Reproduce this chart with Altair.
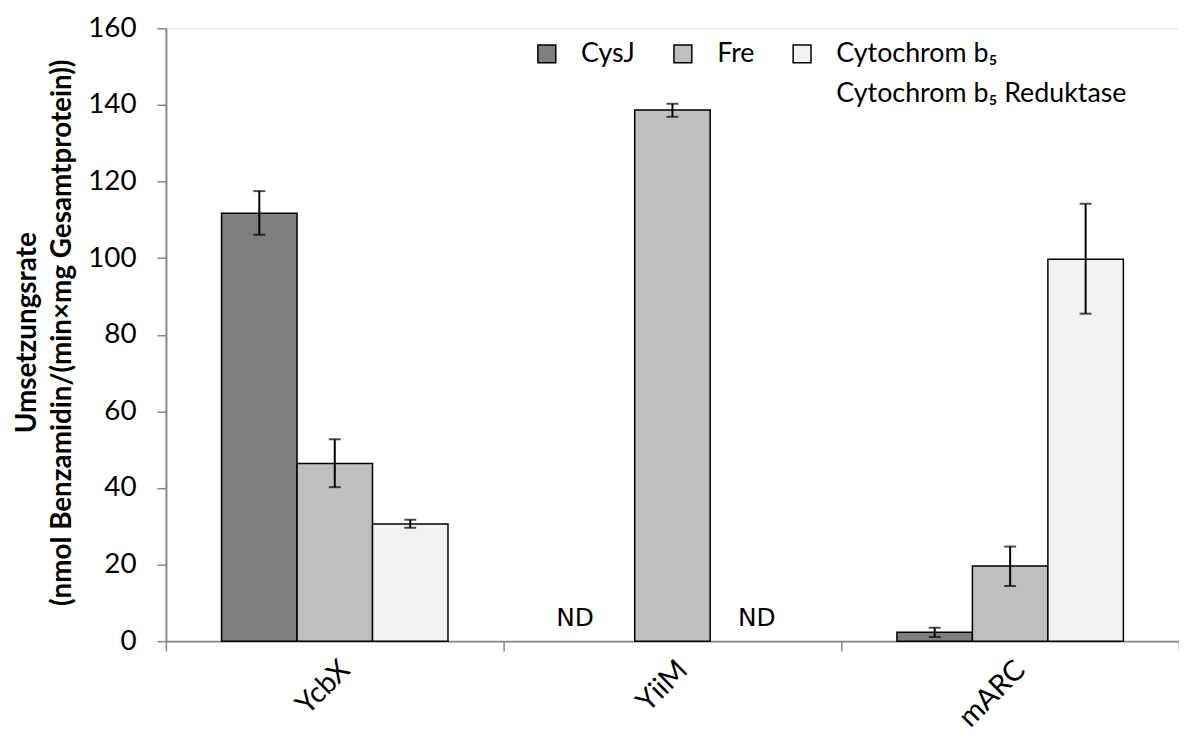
import altair as alt
import pandas as pd

categories = ["YcbX", "YiiM", "mARC"]
series = ["CysJ", "Fre", "Cyt"]
series_labels = {"CysJ": "CysJ", "Fre": "Fre", "Cyt": "Cytochrom b₅"}
second_line = ["Cytochrom b₅ Reduktase"]
series_colors = ["#7f7f7f", "#bfbfbf", "#f2f2f2"]

cysj_vals = [111.7, None, 2.3]
cysj_lo = [106.1, None, 1.1]
cysj_hi = [117.5, None, 3.5]

fre_vals = [46.4, 138.7, 19.6]
fre_lo = [40.2, 136.9, 14.4]
fre_hi = [52.7, 140.3, 24.7]

cyt_vals = [30.6, None, 99.7]
cyt_lo = [29.6, None, 85.5]
cyt_hi = [31.7, None, 114.2]

y_ticks = [0, 20, 40, 60, 80, 100, 120, 140, 160]

rows = []
for s, vals, lo, hi in [("CysJ", cysj_vals, cysj_lo, cysj_hi),
                        ("Fre", fre_vals, fre_lo, fre_hi),
                        ("Cyt", cyt_vals, cyt_lo, cyt_hi)]:
    for c, v, l, h in zip(categories, vals, lo, hi):
        rows.append({"cat": c, "series": s, "value": v, "lo": l, "hi": h,
                     "nd": "ND" if v is None else None})
df = pd.DataFrame(rows)
df2 = pd.DataFrame({"lbl": second_line, "cat": [categories[0]], "v": [0]})

FONT = "Lato"
AX = "#868686"

x_enc = alt.X("cat:N", sort=categories, title=None,
              scale=alt.Scale(paddingInner=0, paddingOuter=0),
              axis=alt.Axis(labelAngle=315, labelAlign="right", labelBaseline="middle",
                            labelFont=FONT, labelFontSize=29, labelColor="black",
                            labelPadding=14, labelOffset=10, tickBand="extent", tickSize=10,
                            tickColor=AX, domainColor=AX, tickWidth=1.5, domainWidth=2))
xoff = alt.XOffset("series:N", sort=series,
                   scale=alt.Scale(domain=series, paddingInner=0, paddingOuter=0.737))
label_expr = ("datum.label == 'Cyt' ? '" + series_labels["Cyt"] + "' : datum.label")
color = alt.Color("series:N", sort=series,
                  scale=alt.Scale(domain=series, range=series_colors),
                  legend=alt.Legend(
                      title=None, orient="none", direction="horizontal",
                      legendX=370, legendY=12, padding=0,
                      symbolType="square", symbolSize=324, symbolStrokeColor="black",
                      symbolStrokeWidth=1.5, symbolOpacity=1,
                      labelFont=FONT, labelFontSize=27, labelColor="black",
                      labelOffset=21, columnPadding=34, labelLimit=500,
                      labelExpr=label_expr))

y_enc = alt.Y("value:Q", scale=alt.Scale(domain=[0, 160], nice=False),
              axis=alt.Axis(values=y_ticks, grid=False, labelFont=FONT, labelFontSize=28,
                            labelColor="black", labelPadding=21, tickSize=9, tickColor=AX,
                            tickWidth=1.5, domainColor=AX, domainWidth=2,
                            title=["Umsetzungsrate", "(nmol Benzamidin/(min×mg Gesamtprotein))"],
                            titleFont=FONT, titleFontSize=28, titleFontWeight="bold",
                            titleColor="black", titleLineHeight=35, titleAngle=270,
                            titleBaseline="alphabetic", titleAlign="center",
                            titleX=-131, titleY=306))

base = alt.Chart(df)

bars = base.mark_bar(stroke="black", strokeWidth=1.5).encode(
    x=x_enc, xOffset=xoff, y=y_enc, color=color
).transform_filter("datum.value != null")

err = base.mark_rule(color="black", strokeWidth=2).encode(
    x=alt.X("cat:N", sort=categories), xOffset=xoff,
    y=alt.Y("lo:Q"), y2="hi:Q"
).transform_filter("datum.value != null")

cap_lo = base.mark_tick(color="black", size=12, thickness=2).encode(
    x=alt.X("cat:N", sort=categories), xOffset=xoff, y=alt.Y("lo:Q")
).transform_filter("datum.value != null")
cap_hi = base.mark_tick(color="black", size=12, thickness=2).encode(
    x=alt.X("cat:N", sort=categories), xOffset=xoff, y=alt.Y("hi:Q")
).transform_filter("datum.value != null")

nd_left = base.mark_text(font="DejaVu Sans", fontSize=25, color="black",
                         baseline="middle", dy=-23, dx=-22).encode(
    x=alt.X("cat:N", sort=categories), xOffset=xoff, y=alt.datum(0), text="nd:N"
).transform_filter("datum.value == null && datum.series == 'CysJ'")
nd_right = base.mark_text(font="DejaVu Sans", fontSize=25, color="black",
                          baseline="middle", dy=-23, dx=9).encode(
    x=alt.X("cat:N", sort=categories), xOffset=xoff, y=alt.datum(0), text="nd:N"
).transform_filter("datum.value == null && datum.series == 'Cyt'")

# second line of the third legend entry, as its own legend with an invisible symbol
legend_line2 = alt.Chart(df2).mark_point(opacity=0, size=0).encode(
    x=alt.X("cat:N", sort=categories),
    y=alt.Y("v:Q"),
    shape=alt.Shape("lbl:N", legend=alt.Legend(
        title=None, orient="none", legendX=627, legendY=53, padding=0,
        symbolType="square", symbolSize=324, symbolStrokeWidth=1.5, symbolOpacity=0,
        symbolStrokeColor="white", symbolFillColor="white",
        labelFont=FONT, labelFontSize=27, labelColor="black",
        labelOffset=21, labelLimit=500))
)

chart = alt.layer(bars, err, cap_lo, cap_hi, nd_left, nd_right, legend_line2).properties(
    width=1020, height=617,
    autosize=alt.AutoSizeParams(type="none"),
    padding={"left": 159, "top": 18, "right": 0, "bottom": 85}
).configure_view(stroke=None).configure(background="white")

chart.save("out.html", embed_options={"renderer": "svg", "actions": False})
